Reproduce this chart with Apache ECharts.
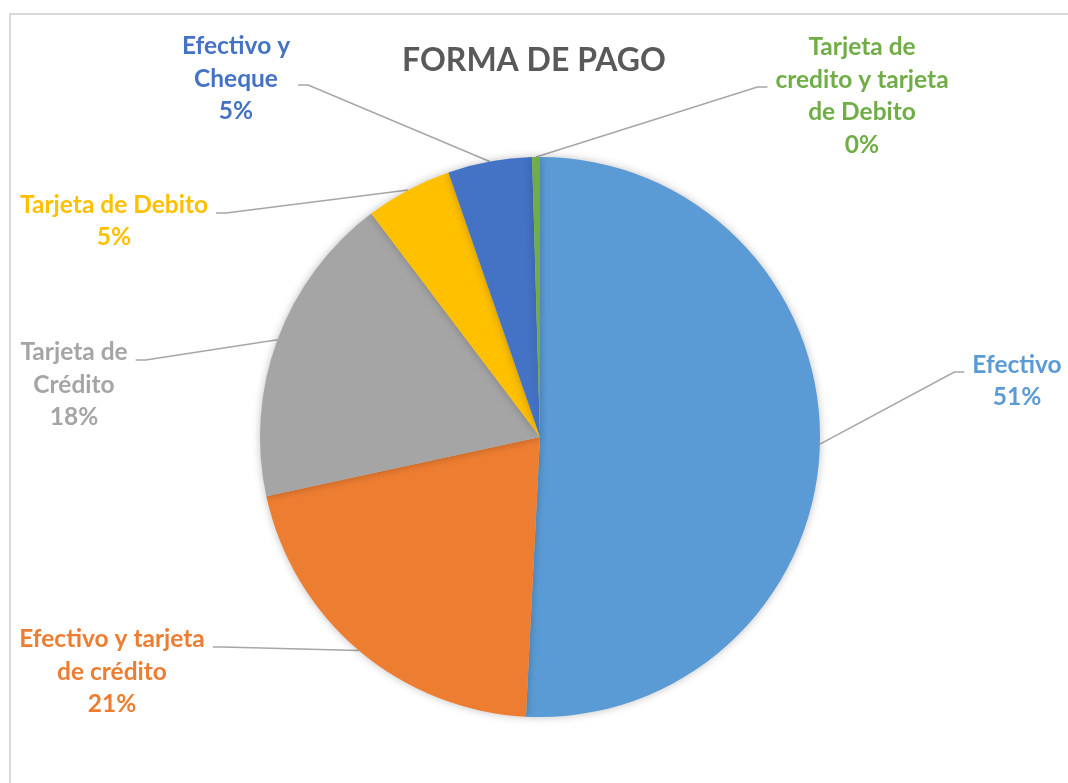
<!DOCTYPE html>
<html>
<head>
<meta charset="utf-8">
<script src="https://cdn.jsdelivr.net/npm/echarts@6/dist/echarts.min.js"></script>
<style>
html,body{margin:0;padding:0;background:#fff;}
#c{width:1068px;height:783px;}
</style>
</head>
<body>
<div id="c"></div>
<script>
// ---- data ----
const categories = ['Efectivo', 'Efectivo y tarjeta de crédito', 'Tarjeta de Crédito', 'Tarjeta de Debito', 'Efectivo y Cheque', 'Tarjeta de credito y tarjeta de Debito'];
const labelText = ['Efectivo', 'Efectivo y tarjeta\nde crédito', 'Tarjeta de\nCrédito', 'Tarjeta de Debito', 'Efectivo y\nCheque', 'Tarjeta de\ncredito y tarjeta\nde Debito'];
const values = [50.8, 20.8, 18.1, 5.0, 4.85, 0.45];
const colors = ['#5B9BD5', '#ED7D31', '#A5A5A5', '#FFC000', '#4472C4', '#70AD47'];
// label layout: [center x, leader attach y], and vertical offset of text centre from attach point
const labelPos = [[1017, 372], [112, 647], [74, 360], [114, 213], [236, 85], [862, 87]];
const labelShift = [9, 25, 25, 8, -6, 9];

const FONT = 'Lato, "Open Sans", sans-serif';
const FS = 24.5;
const GAP = 8;
const ctx = document.createElement('canvas').getContext('2d');
ctx.font = 'bold ' + FS + 'px ' + FONT;
const rich = {};
labelShift.forEach((s, i) => {
  const w = Math.max.apply(null, labelText[i].split('\n').map(t => ctx.measureText(t).width));
  rich['sp' + i] = {lineHeight: Math.abs(2 * s), fontSize: 1, height: Math.abs(2 * s), width: w + 2 * GAP};
});

const chart = echarts.init(document.getElementById('c'), null, {renderer: 'canvas'});
chart.setOption({
  animation: false,
  backgroundColor: '#fff',
  title: {
    text: 'FORMA DE PAGO',
    left: 'center',
    top: 40,
    textStyle: {fontFamily: FONT, fontWeight: 'bold', fontSize: 32, color: '#595959'}
  },
  graphic: [{
    type: 'rect',
    shape: {x: 10, y: 14, width: 1200, height: 1000},
    style: {fill: 'none', stroke: '#d9d9d9', lineWidth: 2},
    silent: true
  }],
  series: [{
    type: 'pie',
    center: [540, 437],
    radius: 280,
    startAngle: 90,
    clockwise: true,
    avoidLabelOverlap: false,
    data: categories.map((c, i) => ({
      name: c,
      value: values[i],
      itemStyle: {color: colors[i]},
      label: {color: colors[i]}
    })),
    itemStyle: {borderWidth: 0, shadowBlur: 8, shadowColor: 'rgba(0,0,0,0.25)'},
    label: {
      show: true,
      position: 'outside',
      fontFamily: FONT,
      fontWeight: 'bold',
      fontSize: FS,
      lineHeight: 32.5,
      align: 'center',
      rich: rich,
      formatter: p => {
        const i = p.dataIndex;
        const s = labelShift[i];
        const body = labelText[i] + '\n' + Math.round(p.percent) + '%';
        const sp = '{sp' + i + '| }';
        return s >= 0 ? sp + '\n' + body : body + '\n' + sp;
      }
    },
    labelLine: {show: true, length: 20, length2: 10, lineStyle: {color: '#A6A6A6', width: 1.5}},
    labelLayout: function (params) {
      const pos = labelPos[params.dataIndex];
      return {x: pos[0], y: pos[1], align: 'center', verticalAlign: 'middle'};
    }
  }]
});
</script>
</body>
</html>
